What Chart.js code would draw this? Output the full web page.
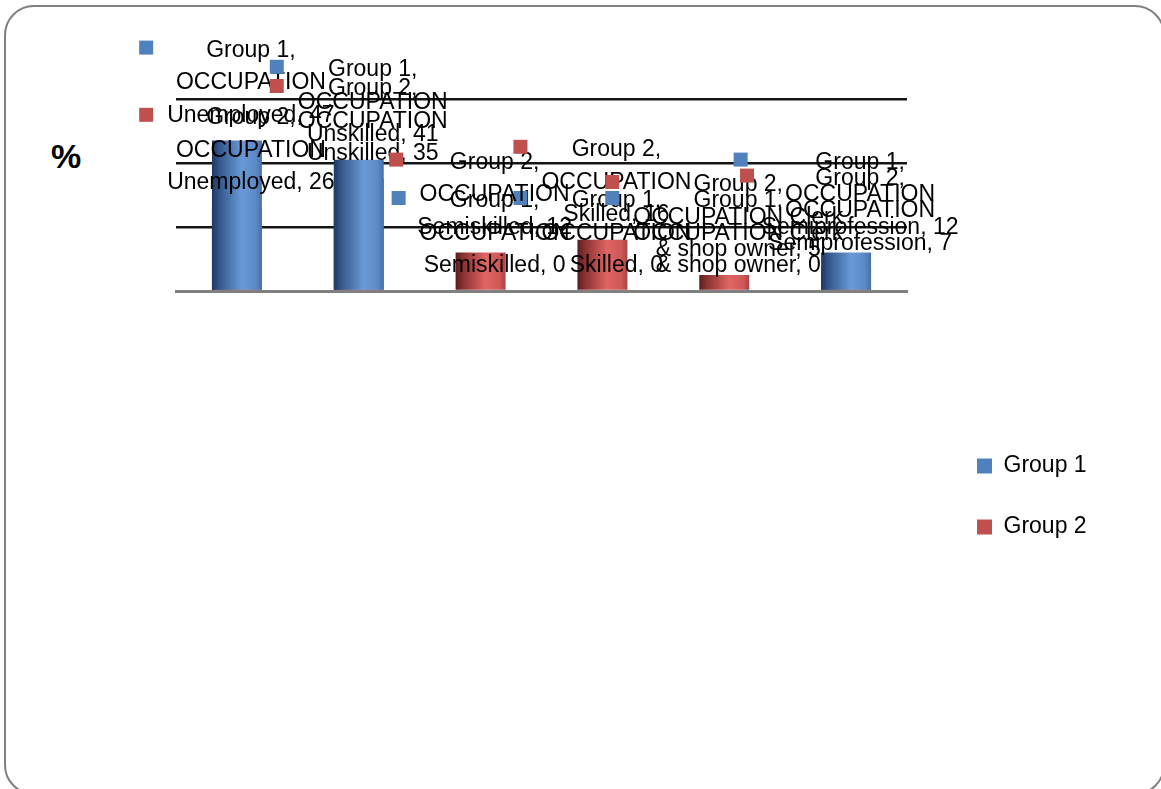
<!DOCTYPE html>
<html>
<head>
<meta charset="utf-8">
<script src="https://cdn.jsdelivr.net/npm/chart.js@4.4.1/dist/chart.umd.min.js"></script>
<style>
html,body{margin:0;padding:0;background:#fff;overflow:hidden;}
#wrap{position:relative;width:1161px;height:789px;overflow:hidden;}
#frame{position:absolute;left:4px;top:5px;width:1161px;height:790px;border:2px solid #808080;border-radius:30px;box-sizing:border-box;}
#ytitle{position:absolute;left:51px;top:139px;font:bold 34px "Liberation Sans",Arial,sans-serif;line-height:34px;color:#000;}
canvas{position:absolute;left:0;top:0;}
</style>
</head>
<body>
<div id="wrap">
  <div id="frame"></div>
  <div id="ytitle">%</div>
  <canvas id="c" width="1161" height="789"></canvas>
</div>
<script>
// ---- data ----
const categories = ['Unemployed', 'Unskilled', 'Semiskilled', 'Skilled', 'Clerk & shop owner', 'Semiprofession'];
const categoryGroup = 'OCCUPATION';
const seriesNames = ['Group 1', 'Group 2'];
const group1 = [47, 41, 0, 0, 0, 12];
const group2 = [26, 35, 12, 16, 5, 7];
const yTicks = [0, 20, 40, 60];

// ---- styles ----
const seriesColors = ['#4f81bd', '#c0504d'];
const gradStops = [
  ['#1e3860', '#33578c', '#6a9ad6', '#5b89c6', '#456fa8'],
  ['#5a1c1c', '#8a3131', '#e06565', '#cf5757', '#a94343']
];
const BAR_PCT = 0.41;
const FONT = '"Liberation Sans", Arial, sans-serif';
const LABEL_SIZE = 23;
const LINE_H = 32.5;
const KEY = 14;
const GAP = 14;
const WRAP_W = 228;

function barFill(ctx, s) {
  const stops = gradStops[s];
  const chart = ctx.chart;
  const xs = chart.scales && chart.scales.x;
  if (!xs || ctx.type !== 'data' || !chart.chartArea) return stops[2];
  const cx = xs.getPixelForValue(ctx.dataIndex);
  const half = (xs.width / categories.length) * BAR_PCT / 2;
  const g = chart.ctx.createLinearGradient(cx - half, 0, cx + half, 0);
  g.addColorStop(0, stops[0]);
  g.addColorStop(0.15, stops[1]);
  g.addColorStop(0.6, stops[2]);
  g.addColorStop(0.88, stops[3]);
  g.addColorStop(1, stops[4]);
  return g;
}

function wrapText(c, text, maxW) {
  const words = text.split(' ');
  const lines = [];
  let cur = '';
  for (const w of words) {
    const t = cur ? cur + ' ' + w : w;
    if (cur && c.measureText(t).width > maxW) { lines.push(cur); cur = w; }
    else cur = t;
  }
  if (cur) lines.push(cur);
  return lines;
}

const labelPlugin = {
  id: 'occLabels',
  afterDatasetsDraw(chart) {
    const c = chart.ctx;
    c.save();
    c.font = LABEL_SIZE + 'px ' + FONT;
    c.textAlign = 'center';
    c.textBaseline = 'middle';
    chart.data.datasets.forEach((ds, di) => {
      const meta = chart.getDatasetMeta(di);
      meta.data.forEach((bar, i) => {
        const txt = ds.label + ', ' + categoryGroup + ' ' + categories[i] + ', ' + ds.data[i];
        const lines = wrapText(c, txt, WRAP_W);
        const maxW = Math.max(...lines.map(l => c.measureText(l).width));
        const blockW = KEY + GAP + maxW;
        const left = bar.x - blockW / 2;
        const textCx = left + KEY + GAP + maxW / 2;
        const lastY = bar.y - 25;
        const firstY = lastY - LINE_H * (lines.length - 1);
        c.fillStyle = seriesColors[di];
        c.fillRect(left, firstY - 3 - KEY / 2, KEY, KEY);
        c.fillStyle = '#000';
        lines.forEach((l, k) => c.fillText(l, textCx, firstY + k * LINE_H));
      });
    });
    c.restore();
  }
};

const legendPlacer = {
  id: 'legendPlacer',
  afterLayout(chart) {
    const lg = chart.legend, ca = chart.chartArea;
    if (!lg) return;
    const w = lg.width, h = lg.height;
    lg.left = ca.right + 32; lg.right = lg.left + w;
    lg.top = ca.bottom + 125.5; lg.bottom = lg.top + h;
  }
};

new Chart(document.getElementById('c'), {
  type: 'bar',
  data: {
    labels: categories,
    datasets: [
      { label: seriesNames[0], data: group1, backgroundColor: ctx => barFill(ctx, 0), borderWidth: 0 },
      { label: seriesNames[1], data: group2, backgroundColor: ctx => barFill(ctx, 1), borderWidth: 0 }
    ]
  },
  options: {
    responsive: false,
    devicePixelRatio: 1,
    animation: false,
    layout: { padding: { left: 176, top: 99, right: 254, bottom: 498 } },
    datasets: { bar: { grouped: false, barPercentage: BAR_PCT, categoryPercentage: 1 } },
    scales: {
      x: {
        type: 'category',
        offset: true,
        grid: { display: false },
        border: { display: true, color: '#808080', width: 3 },
        ticks: { display: false },
        afterFit: s => { s.height = 0; }
      },
      y: {
        min: yTicks[0], max: yTicks[yTicks.length - 1],
        afterBuildTicks: s => { s.ticks = yTicks.map(v => ({ value: v })); },
        ticks: { display: false },
        grid: {
          color: ctx => (ctx.tick && ctx.tick.value === 0) ? 'rgba(0,0,0,0)' : '#151515',
          lineWidth: 2.5,
          drawTicks: false
        },
        border: { display: false },
        afterFit: s => { s.width = 0; }
      }
    },
    plugins: {
      tooltip: { enabled: false },
      title: { display: false },
      legend: {
        position: 'chartArea',
        align: 'start',
        labels: {
          boxWidth: 15, boxHeight: 15, padding: 38, color: '#000',
          font: { family: FONT, size: 23 },
          generateLabels(chart) {
            const items = Chart.defaults.plugins.legend.labels.generateLabels(chart);
            items.forEach(it => { it.fillStyle = seriesColors[it.datasetIndex]; it.strokeStyle = seriesColors[it.datasetIndex]; it.lineWidth = 0; });
            return items;
          }
        }
      }
    }
  },
  plugins: [labelPlugin, legendPlacer]
});
</script>
</body>
</html>
